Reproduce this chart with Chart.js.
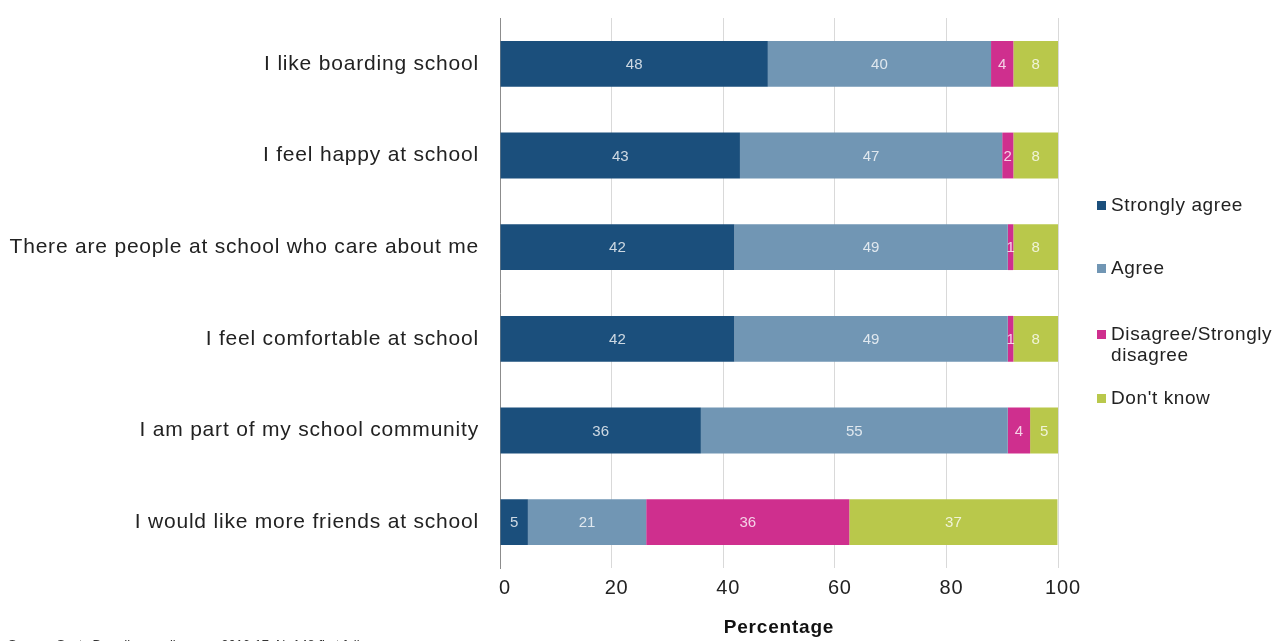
<!DOCTYPE html>
<html>
<head>
<meta charset="utf-8">
<script src="https://cdn.jsdelivr.net/npm/chart.js@4"></script>
<style>
  body { margin: 0; background: #fff; }
  #wrap { position: relative; width: 1276px; height: 641px; }
  #legend { position: absolute; left: 1097px; top: 0; font-family: "Liberation Sans", Arial, sans-serif; font-size: 19px; letter-spacing: 0.6px; color: #222; }
  .item { position: absolute; left: 0; width: 180px; line-height: 21px; padding-left: 14px; }
  .box { position: absolute; left: 0; top: 7px; width: 9px; height: 9px; }
</style>
</head>
<body>
<div id="wrap">
  <canvas id="myChart" width="1276" height="641"></canvas>
  <div id="legend"></div>
</div>
<script>
const statements = [
  'I like boarding school',
  'I feel happy at school',
  'There are people at school who care about me',
  'I feel comfortable at school',
  'I am part of my school community',
  'I would like more friends at school'
]
const stronglyAgree = [48, 43, 42, 42, 36, 5]
const agree = [40, 47, 49, 49, 55, 21.2]
const disagree = [4, 2, 1, 1, 4, 36.4]
const dontKnow = [8, 8, 8, 8, 5, 37.3]
const xTicks = [0, 20, 40, 60, 80, 100]

const seriesNames = ['Strongly agree', 'Agree', 'Disagree/Strongly disagree', "Don't know"]
const colours = ['#1b4f7c', '#7196b4', '#cf2f8e', '#b9c84b']
const legendTops = [194, 257, 323, 387]

const FONT = '"Liberation Sans", Arial, sans-serif'

// slightly wider text like the original
const spacing = {
  id: 'spacing',
  beforeInit(chart) { chart.ctx.letterSpacing = '0.8px' },
  beforeDraw(chart) { chart.ctx.letterSpacing = '0.8px' }
}

// numbers inside the bars
const barLabels = {
  id: 'barLabels',
  afterDatasetsDraw(chart) {
    const ctx = chart.ctx
    ctx.save()
    ctx.letterSpacing = '0px'
    ctx.font = '15px ' + FONT
    ctx.textAlign = 'center'
    ctx.textBaseline = 'middle'
    ctx.fillStyle = 'rgba(255,255,255,0.78)'
    chart.data.datasets.forEach((ds, i) => {
      chart.getDatasetMeta(i).data.forEach((bar, j) => {
        const x = (bar.x + bar.base) / 2
        ctx.fillText(Math.round(ds.data[j]), x, bar.y + 1)
      })
    })
    ctx.restore()
  }
}

// source note, cut off at the bottom edge
const sourceNote = {
  id: 'sourceNote',
  afterDraw(chart) {
    const ctx = chart.ctx
    ctx.save()
    ctx.letterSpacing = '0px'
    ctx.font = '13px ' + FONT
    ctx.textAlign = 'left'
    ctx.textBaseline = 'middle'
    ctx.fillStyle = '#333'
    ctx.fillText('Source: Scots Boarding pupil survey 2016-17, N=148 first follow-up', 8, 645)
    ctx.restore()
  }
}

const ctx = document.getElementById('myChart')
new Chart(ctx, {
  type: 'bar',
  data: {
    labels: statements,
    datasets: [stronglyAgree, agree, disagree, dontKnow].map((d, i) => ({
      label: seriesNames[i],
      data: d,
      backgroundColor: colours[i],
      borderWidth: 0,
      categoryPercentage: 0.5,
      barPercentage: 1
    }))
  },
  options: {
    indexAxis: 'y',
    responsive: false,
    animation: false,
    layout: { padding: { top: 18, right: 218, left: 0, bottom: 0 } },
    plugins: { legend: { display: false }, tooltip: { enabled: false } },
    scales: {
      x: {
        stacked: true,
        min: 0,
        max: 100,
        afterBuildTicks: (s) => { s.ticks = xTicks.map(v => ({ value: v })) },
        afterFit: (s) => { s.height = 73; s.paddingLeft = 0; s.paddingRight = 0 },
        grid: { color: '#d9d9d9', drawTicks: false },
        border: { display: false },
        title: {
          display: true,
          text: 'Percentage',
          color: '#111',
          padding: { top: 0, bottom: 2 },
          font: { size: 19, weight: 'bold', family: FONT }
        },
        ticks: { color: '#222', padding: 8, labelOffset: 5, font: { size: 20, family: FONT } }
      },
      y: {
        stacked: true,
        afterFit: (s) => { s.width = 500; s.paddingTop = 0; s.paddingBottom = 0 },
        grid: { display: false, drawTicks: false },
        border: { color: '#8c8c8c' },
        ticks: { color: '#222', padding: 21, font: { size: 21, family: FONT } }
      }
    }
  },
  plugins: [spacing, barLabels, sourceNote]
})

const legend = document.getElementById('legend')
seriesNames.forEach((name, i) => {
  const item = document.createElement('div')
  item.className = 'item'
  item.style.top = legendTops[i] + 'px'
  item.innerHTML = '<span class="box" style="background:' + colours[i] + '"></span>' + name.replace('/Strongly ', '/Strongly<br>')
  legend.appendChild(item)
})
</script>
</body>
</html>
